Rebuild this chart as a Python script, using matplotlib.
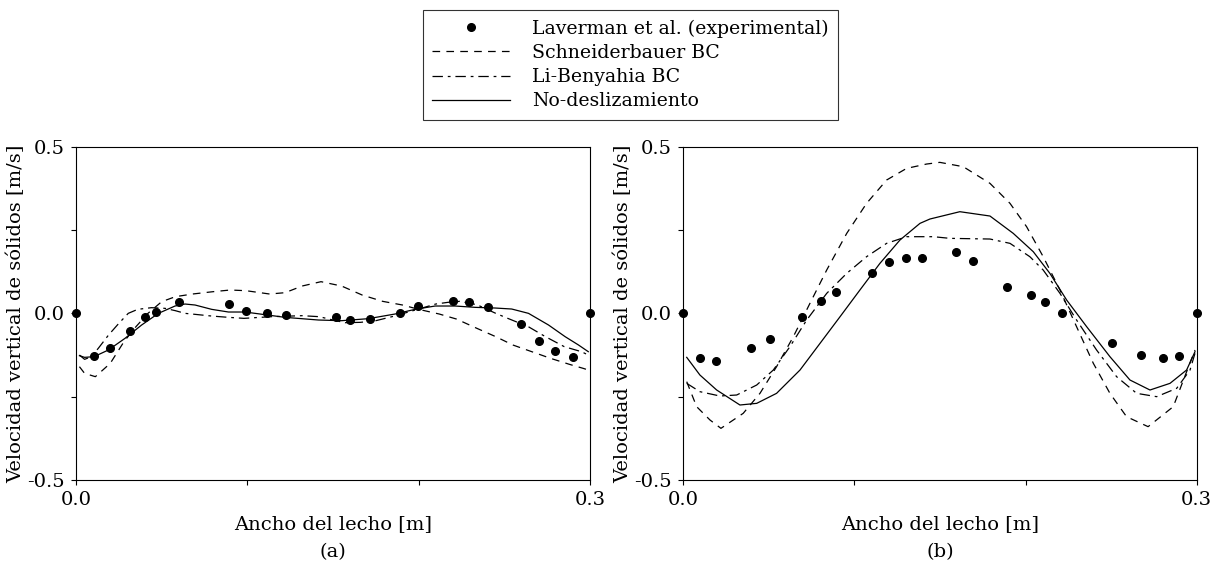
import matplotlib
matplotlib.use("Agg")
import matplotlib.pyplot as plt
from matplotlib.lines import Line2D

plt.rcParams['font.family'] = ['DejaVu Serif']
plt.rcParams['lines.scale_dashes'] = False
plt.rcParams['mathtext.fontset'] = 'dejavuserif'

# ---------------- data: panel (a) ----------------
exp_a_x = [0.0, 0.0105, 0.0198, 0.0317, 0.0405, 0.0469, 0.0601, 0.0895, 0.0992, 0.1117, 0.1224,
           0.152, 0.1597, 0.1714, 0.189, 0.1998, 0.2203, 0.2296, 0.2403, 0.2598, 0.2705, 0.2796,
           0.2899, 0.3]
exp_a_y = [0.0, -0.127, -0.103, -0.052, -0.012, 0.005, 0.033, 0.027, 0.008, 0.0, -0.004,
           -0.012, -0.020, -0.016, 0.002, 0.022, 0.037, 0.035, 0.020, -0.033, -0.082, -0.113,
           -0.132, 0.0]

noslip_a_x = [0.002, 0.005, 0.0105, 0.0189, 0.0286, 0.0383, 0.0481, 0.0578, 0.0636, 0.0695,
              0.0792, 0.089, 0.0987, 0.1045, 0.122, 0.1415, 0.155, 0.1706, 0.1862, 0.1979,
              0.2096, 0.2213, 0.233, 0.2446, 0.2543, 0.2641, 0.2758, 0.2855, 0.2933, 0.299]
noslip_a_y = [-0.127, -0.132, -0.130, -0.110, -0.075, -0.035, 0.0, 0.022, 0.028, 0.025,
              0.012, 0.004, 0.004, 0.0, -0.012, -0.020, -0.022, -0.016, -0.002, 0.012,
              0.022, 0.022, 0.018, 0.016, 0.013, 0.0, -0.035, -0.070, -0.095, -0.115]

schn_a_x = [0.002, 0.005, 0.0113, 0.02, 0.028, 0.035, 0.042, 0.05, 0.058, 0.068, 0.08, 0.09,
            0.0992, 0.113, 0.122, 0.132, 0.143, 0.155, 0.167, 0.179, 0.1906, 0.2, 0.212, 0.222,
            0.234, 0.245, 0.255, 0.266, 0.277, 0.288, 0.296, 0.299]
schn_a_y = [-0.16, -0.18, -0.19, -0.15, -0.085, -0.04, 0.0, 0.035, 0.05, 0.058, 0.065, 0.07,
            0.068, 0.058, 0.062, 0.082, 0.095, 0.082, 0.055, 0.036, 0.025, 0.012, -0.002, -0.017,
            -0.045, -0.07, -0.095, -0.115, -0.135, -0.153, -0.165, -0.17]

li_a_x = [0.002, 0.005, 0.009, 0.013, 0.019, 0.025, 0.0305, 0.036, 0.044, 0.052, 0.058, 0.0636,
          0.0695, 0.079, 0.089, 0.098, 0.114, 0.132, 0.142, 0.150, 0.157, 0.166, 0.175, 0.186,
          0.198, 0.21, 0.217, 0.224, 0.234, 0.245, 0.252, 0.264, 0.274, 0.285, 0.295, 0.299]
li_a_y = [-0.125, -0.138, -0.13, -0.105, -0.065, -0.03, 0.0, 0.012, 0.017, 0.015, 0.008, 0.0,
          -0.003, -0.008, -0.012, -0.015, -0.01, -0.007, -0.01, -0.02, -0.028, -0.027, -0.022,
          -0.008, 0.01, 0.028, 0.033, 0.036, 0.026, 0.0, -0.015, -0.04, -0.07, -0.1, -0.115,
          -0.125]

# ---------------- data: panel (b) ----------------
exp_b_x = [0.0, 0.0097, 0.0189, 0.0395, 0.0506, 0.0695, 0.0803, 0.089, 0.1105, 0.120, 0.130,
           0.1397, 0.1593, 0.1694, 0.1889, 0.2029, 0.2111, 0.221, 0.2503, 0.2674, 0.2805,
           0.2894, 0.3]
exp_b_y = [0.0, -0.135, -0.142, -0.103, -0.078, -0.010, 0.037, 0.063, 0.120, 0.153, 0.165,
           0.165, 0.184, 0.158, 0.080, 0.054, 0.035, 0.001, -0.090, -0.125, -0.135, -0.127, 0.0]

noslip_b_x = [0.002, 0.0097, 0.0195, 0.0331, 0.0429, 0.0545, 0.0682, 0.0799, 0.0916, 0.1032,
              0.1149, 0.1266, 0.1383, 0.1441, 0.1616, 0.1792, 0.1928, 0.2045, 0.2142, 0.224,
              0.2357, 0.2493, 0.261, 0.2727, 0.2844, 0.2941, 0.299]
noslip_b_y = [-0.132, -0.185, -0.230, -0.275, -0.270, -0.240, -0.170, -0.090, -0.010, 0.070,
              0.150, 0.220, 0.270, 0.283, 0.305, 0.292, 0.240, 0.185, 0.120, 0.040, -0.040,
              -0.130, -0.200, -0.230, -0.210, -0.170, -0.115]

schn_b_x = [0.002, 0.0078, 0.0156, 0.022, 0.035, 0.0448, 0.0545, 0.0643, 0.074, 0.0838, 0.0955,
            0.1071, 0.1188, 0.1305, 0.1422, 0.1499, 0.1636, 0.1792, 0.1909, 0.2006, 0.2103,
            0.2201, 0.2298, 0.2396, 0.2493, 0.259, 0.2716, 0.2863, 0.293, 0.299]
schn_b_y = [-0.205, -0.280, -0.320, -0.345, -0.300, -0.240, -0.160, -0.070, 0.030, 0.130, 0.240,
            0.330, 0.400, 0.435, 0.448, 0.453, 0.440, 0.390, 0.330, 0.260, 0.170, 0.070, -0.040,
            -0.150, -0.240, -0.310, -0.340, -0.280, -0.190, -0.110]

li_b_x = [0.002, 0.0097, 0.0214, 0.0312, 0.0429, 0.0526, 0.0623, 0.0721, 0.0838, 0.0955, 0.1071,
          0.1188, 0.1305, 0.1461, 0.1558, 0.1792, 0.1909, 0.2025, 0.2103, 0.2201, 0.2298,
          0.2415, 0.2532, 0.2649, 0.2766, 0.2883, 0.2961, 0.299]
li_b_y = [-0.21, -0.235, -0.248, -0.245, -0.215, -0.17, -0.10, -0.02, 0.06, 0.12, 0.17, 0.21,
          0.23, 0.23, 0.225, 0.223, 0.21, 0.17, 0.13, 0.06, -0.02, -0.11, -0.19, -0.24, -0.25,
          -0.225, -0.17, -0.12]

series_labels = ["Laverman et al. (experimental)", "Schneiderbauer BC", "Li-Benyahia BC",
                 "No-deslizamiento"]
x_ticks = [0.0, 0.1, 0.2, 0.3]
x_ticklabels = ["0.0", "", "", "0.3"]
y_ticks = [-0.5, -0.25, 0.0, 0.25, 0.5]
y_ticklabels = ["-0.5", "", "0.0", "", "0.5"]
xlabel = "Ancho del lecho [m]"
ylabel = "Velocidad vertical de sólidos [m/s]"
panel_tags = ["(a)", "(b)"]

# ---------------- styling ----------------
FS = 14
FS_LEG = 13.6
W, H = 1222, 567
fig = plt.figure(figsize=(W / 100, H / 100), dpi=100)

dash_s = (0, (5.5, 4.5))
dash_li = (0, (7.5, 3.5, 2.0, 3.5))
lw = 0.9

def px_axes(x0, x1, y0, y1):
    return fig.add_axes([x0 / W, 1 - y1 / H, (x1 - x0) / W, (y1 - y0) / H])

ax_a = px_axes(76, 590, 146.7, 480)
ax_b = px_axes(683.3, 1196.7, 146.7, 480)

panels = [
    (ax_a, exp_a_x, exp_a_y, schn_a_x, schn_a_y, li_a_x, li_a_y, noslip_a_x, noslip_a_y),
    (ax_b, exp_b_x, exp_b_y, schn_b_x, schn_b_y, li_b_x, li_b_y, noslip_b_x, noslip_b_y),
]

for i, (ax, ex, ey, sx, sy, lx, ly, nx, ny) in enumerate(panels):
    ax.plot(sx, sy, color='black', lw=lw, linestyle=dash_s)
    ax.plot(lx, ly, color='black', lw=lw, linestyle=dash_li)
    ax.plot(nx, ny, color='black', lw=lw, linestyle='-')
    ax.plot(ex, ey, 'o', color='black', markersize=5.5, clip_on=False, zorder=5)
    ax.set_xlim(0.0, 0.3)
    ax.set_ylim(-0.5, 0.5)
    ax.set_xticks(x_ticks)
    ax.set_xticklabels(x_ticklabels)
    ax.set_yticks(y_ticks)
    ax.set_yticklabels(y_ticklabels)
    ax.tick_params(direction='out', length=3.5, width=0.8, labelsize=FS, pad=4.5)
    for sp in ax.spines.values():
        sp.set_linewidth(0.8)
    ax.set_xlabel(xlabel, fontsize=FS, labelpad=4)
    ax.set_ylabel(ylabel, fontsize=FS, labelpad=1.5)
    bb = ax.get_position()
    fig.text(bb.x0 + bb.width / 2, 1 - 552 / H, panel_tags[i], fontsize=FS,
             ha='center', va='center')

handles = [
    Line2D([], [], marker='o', color='black', linestyle='None', markersize=5.5),
    Line2D([], [], color='black', lw=lw, linestyle=dash_s),
    Line2D([], [], color='black', lw=lw, linestyle=dash_li),
    Line2D([], [], color='black', lw=lw, linestyle='-'),
]
leg = fig.legend(handles, series_labels, loc='upper left',
                 bbox_to_anchor=(423 / W, 1 - 10 / H), borderaxespad=0,
                 fontsize=FS_LEG, frameon=True, fancybox=False, edgecolor='black',
                 handlelength=4.1, handletextpad=1.15, borderpad=0.5, labelspacing=0.33)
leg.get_frame().set_linewidth(0.8)

fig.savefig("out.png", dpi=100)
